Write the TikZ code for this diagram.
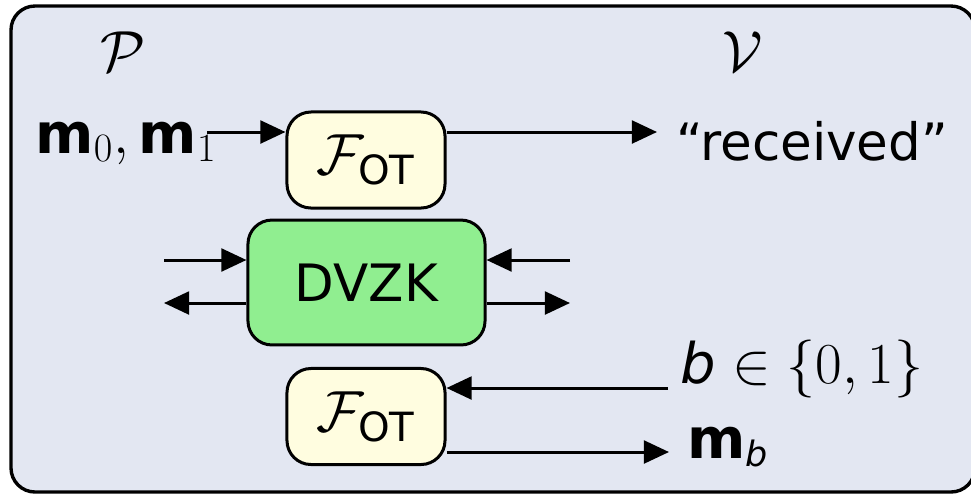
\documentclass[tikz,border=0pt]{standalone}
\usepackage{amsmath}
\usepackage[no-math]{fontspec}
\setmainfont{DejaVu Sans}
\usetikzlibrary{arrows.meta}

% math set a little larger than the surrounding sans text
\DeclareMathSizes{22.1}{24.88}{17.28}{14.4}

\definecolor{panelbg}{RGB}{227,231,242}
\definecolor{otfill}{RGB}{255,253,224}
\definecolor{zkfill}{RGB}{144,238,144}

\tikzset{
  bigtext/.style={font=\fontsize{22.1}{27}\selectfont},
  lbl/.style={bigtext, inner sep=0pt},
  box/.style={bigtext, draw=black, line width=1.29pt, rounded corners=10.3pt, inner sep=0pt},
  otbox/.style={box, fill=otfill, minimum width=67.8pt, minimum height=41.2pt},
  zkbox/.style={box, fill=zkfill, minimum width=101.7pt, minimum height=53.6pt},
  flow/.style={line width=1.29pt, -{Triangle[length=10.8pt,width=9.8pt]}},
}

\newcommand{\bvec}[1]{\mbox{\fontsize{24}{28}\selectfont\bfseries #1}}
\newcommand{\svar}[1]{\mbox{\fontsize{24}{28}\selectfont\itshape #1}}
\newcommand{\ssub}[1]{\mbox{\fontsize{15}{18}\selectfont\itshape #1}}

\begin{document}
\begin{tikzpicture}[x=0.429pt,y=-0.429pt]
  \useasboundingbox (0,0) rectangle (971,493);
  \clip (0,0) rectangle (971,493);

  % panel holding both parties
  \draw[fill=panelbg, line width=1.45pt, rounded corners=10.3pt] (11,6) rectangle (975,492);

  % party names
  \node[lbl] (P) at (123,52) {$\mathcal{P}$};
  \node[lbl] (V) at (743,52) {$\mathcal{V}$};

  % functionalities
  \node[otbox] (ot1) at (366,160) {$\mathcal{F}_{\text{OT}}$};
  \node[zkbox] (zk) at (366.5,282.5) {DVZK};
  \node[otbox] (ot2) at (366,416.5) {$\mathcal{F}_{\text{OT}}$};

  % inputs and outputs
  \node[lbl, anchor=base west] (m01) at (35,153) {$\bvec{m}_0, \bvec{m}_1$};
  \node[lbl, anchor=base west] (rcv) at (676,160) {“received”};
  \node[lbl, anchor=base west] (bsel) at (680,383) {$\svar{b} \in \{0,1\}$};
  \node[lbl, anchor=base west] (mb) at (687,458) {$\bvec{m}_{\ssub{b}}$};

  % first OT: sender side
  \coordinate (mStart) at (207,132);
  \coordinate (rEnd) at (657,132);
  \draw[flow] (mStart) -- (mStart -| ot1.west);
  \draw[flow] (rEnd -| ot1.east) -- (rEnd);

  % DVZK ports
  \coordinate (zlIn) at (164,260);
  \coordinate (zlOut) at (164,303);
  \coordinate (zrIn) at (570,260);
  \coordinate (zrOut) at (570,303);
  \draw[flow] (zlIn) -- (zlIn -| zk.west);
  \draw[flow] (zlOut -| zk.west) -- (zlOut);
  \draw[flow] (zrIn) -- (zrIn -| zk.east);
  \draw[flow] (zrOut -| zk.east) -- (zrOut);

  % second OT: receiver side
  \coordinate (bStart) at (668,388);
  \coordinate (mbEnd) at (669,452);
  \draw[flow] (bStart) -- (bStart -| ot2.east);
  \draw[flow] (mbEnd -| ot2.east) -- (mbEnd);
\end{tikzpicture}
\end{document}
